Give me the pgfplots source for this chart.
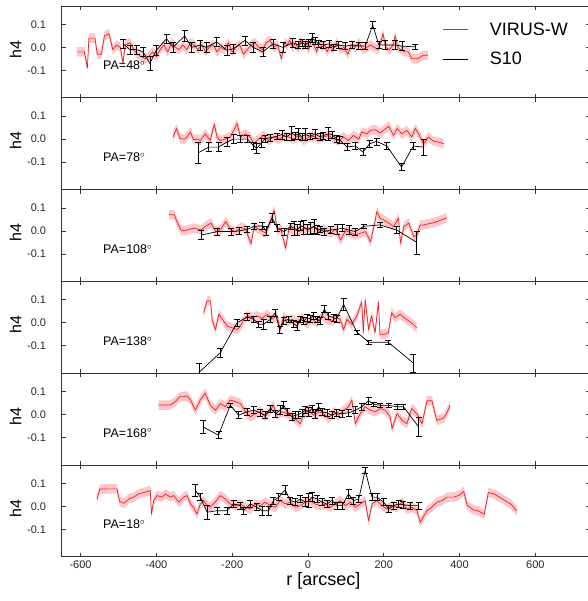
\documentclass[border=0pt]{standalone}
\usepackage{fontspec}
\setmainfont{Liberation Sans}
\usepackage{pgfplots}
\usepackage{pgfplotstable}
\pgfplotsset{compat=1.18}
\usepgfplotslibrary{fillbetween}

\definecolor{vred}{RGB}{236,30,38}
\definecolor{bandpink}{RGB}{251,190,193}

% VIRUS-W (red) and S10 (black) h4 profiles, one table per PA
\pgfplotstableread{
r h
-610 -0.02
-590 -0.02
-582 -0.09
-578 0.04
-562 0.04
-556 -0.03
-545 -0.03
-537 0.05
-525 0.06
-515 -0.01
-505 0.01
-495 0.0
-488 -0.07
-482 0.01
-470 0.02
-460 -0.01
-450 -0.03
-440 -0.04
-430 -0.05
-420 -0.04
-410 -0.02
-400 -0.04
-390 -0.01
-380 0.01
-370 -0.02
-360 0.02
-350 0.0
-340 -0.01
-330 0.01
-320 -0.01
-310 0.02
-300 0.01
-290 -0.01
-280 0.01
-270 -0.02
-260 0.0
-250 0.01
-240 -0.02
-230 0.0
-220 -0.01
-210 0.02
-200 -0.02
-190 0.0
-180 0.01
-170 -0.03
-160 -0.01
-150 0.01
-140 0.02
-130 0.0
-120 -0.01
-110 0.02
-100 0.03
-90 0.0
-80 0.01
-70 -0.05
-62 0.02
-55 0.01
-48 0.03
-40 0.0
-33 0.02
-26 -0.01
-19 0.03
-12 0.0
-5 0.02
2 -0.01
9 0.03
16 0.01
23 -0.02
30 0.02
37 0.0
44 0.01
51 -0.02
58 0.01
66 -0.01
75 0.02
85 -0.01
95 0.0
105 -0.03
115 0.01
125 0.0
135 0.02
145 -0.01
155 0.0
165 0.01
175 0.0
185 -0.01
192 0.02
198 0.06
205 0.0
215 -0.01
225 0.01
230 0.05
237 0.0
245 -0.01
255 -0.02
265 -0.02
274 -0.05
290 -0.05
304 -0.035
317 -0.035
}\redA
\pgfplotstableread{
r h e
-488 0.016 0.02
-470 -0.01 0.02
-452 -0.01 0.02
-435 -0.02 0.02
-417 -0.07 0.03
-400 -0.013 0.02
-373 0.038 0.02
-356 0.0 0.02
-325 0.05 0.025
-307 0.0 0.02
-285 0.009 0.02
-267 0.0 0.02
-241 0.024 0.02
-214 -0.013 0.02
-197 -0.006 0.02
-166 0.03 0.02
-145 0.0 0.02
-119 -0.02 0.02
-92 0.015 0.02
-66 0.0 0.02
-40 0.02 0.02
-25 0.01 0.015
-16 0.02 0.015
-7 0.012 0.015
2 0.02 0.015
11 0.04 0.02
19 0.03 0.015
28 0.015 0.015
41 0.01 0.015
55 0.015 0.015
68 0.0 0.015
81 0.01 0.015
99 0.005 0.015
116 0.01 0.015
134 0.006 0.015
151 0.005 0.015
171 0.097 0.015
187 0.01 0.015
204 0.01 0.02
230 0.01 0.02
248 0.005 0.02
283 0.002 0.01
}\blkA
\pgfplotstableread{
r h
-356 0.009
-347 0.046
-337 0.002
-324 0.0
-310 0.031
-302 -0.003
-293 0.0
-284 -0.006
-271 0.023
-258 -0.006
-247 0.065
-240 0.009
-231 -0.006
-218 0.0
-205 0.009
-187 0.068
-178 0.009
-165 0.023
-152 0.009
-143 -0.02
-130 0.0
-117 0.016
-104 -0.006
-91 0.009
-77 0.0
-64 0.012
-51 0.009
-38 0.0
-25 0.016
-11 -0.006
2 0.009
15 0.012
28 0.0
41 0.009
54 0.016
68 0.0
81 -0.006
94 0.009
107 -0.006
120 0.016
134 0.0
142 0.031
156 0.023
164 0.038
178 0.041
191 0.026
199 0.038
213 0.056
226 0.016
235 0.046
248 0.023
261 0.038
274 0.009
283 0.046
292 0.023
305 -0.02
318 0.009
331 -0.009
345 -0.013
358 -0.02
}\redB
\pgfplotstableread{
r h e
-290 -0.06 0.045
-262 -0.035 0.02
-236 -0.035 0.02
-214 -0.013 0.02
-196 0.0 0.02
-178 0.0 0.015
-160 0.0 0.015
-143 -0.03 0.015
-135 -0.04 0.02
-122 -0.015 0.02
-113 0.002 0.015
-100 0.006 0.015
-82 0.012 0.015
-69 0.02 0.02
-56 0.01 0.015
-43 0.026 0.03
-34 0.016 0.015
-25 0.023 0.025
-16 0.01 0.015
-7 0.02 0.025
6 0.012 0.015
19 0.023 0.02
32 0.01 0.015
41 0.016 0.015
54 0.023 0.03
63 0.02 0.015
76 0.0 0.015
84 -0.004 0.015
103 -0.034 0.015
125 -0.03 0.015
145 -0.056 0.015
163 -0.02 0.015
181 -0.01 0.015
208 -0.03 0.015
247 -0.122 0.015
278 -0.03 0.015
305 -0.035 0.035
}\blkB
\pgfplotstableread{
r h
-366 0.07
-353 0.07
-344 0.034
-335 0.004
-326 0.0
-313 0.007
-300 0.012
-282 0.004
-265 0.026
-256 0.034
-243 -0.003
-230 0.007
-217 0.041
-203 0.004
-190 -0.003
-177 0.016
-164 0.007
-155 -0.037
-150 -0.055
-142 0.019
-129 0.007
-111 -0.01
-98 0.048
-89 0.09
-81 0.004
-72 0.012
-59 -0.076
-50 0.012
-37 0.007
-24 -0.003
-11 0.012
3 0.004
16 0.019
29 -0.003
42 0.007
60 -0.01
73 0.007
86 -0.04
99 0.001
112 -0.007
125 -0.018
139 -0.01
152 -0.003
165 -0.047
174 0.019
182 0.085
190 0.056
200 0.048
213 0.034
226 0.019
239 0.056
244 -0.054
253 0.019
266 0.034
279 -0.025
288 -0.018
296 0.026
305 0.026
332 0.036
349 0.046
366 0.057
}\redC
\pgfplotstableread{
r h e
-282 -0.018 0.02
-239 -0.003 0.015
-203 -0.003 0.015
-182 0.0 0.015
-160 0.007 0.015
-142 0.02 0.015
-120 0.022 0.015
-111 0.0 0.02
-94 0.056 0.02
-81 0.012 0.015
-63 -0.003 0.015
-46 0.02 0.015
-37 0.012 0.03
-28 0.004 0.025
-19 0.022 0.02
-11 0.016 0.03
-2 0.007 0.02
7 0.012 0.025
16 0.02 0.03
25 0.004 0.02
33 0.007 0.015
42 -0.003 0.015
60 0.004 0.015
77 0.007 0.02
90 0.012 0.015
108 0.004 0.02
125 -0.003 0.015
147 0.02 0.01
190 0.026 0.01
234 0.004 0.015
287 -0.05 0.05
}\blkC
\pgfplotstableread{
r h
-275 0.044
-266 0.095
-257 0.095
-253 0.015
-244 -0.03
-235 0.037
-226 0.015
-213 -0.015
-200 -0.022
-187 -0.03
-178 -0.015
-169 0.015
-160 0.03
-147 0.022
-134 0.03
-121 0.018
-108 0.037
-95 0.015
-82 0.03
-73 -0.03
-64 0.03
-55 0.0
-42 0.015
-29 0.0
-16 0.022
-3 -0.007
11 0.015
24 0.0
37 0.03
50 0.015
63 0.007
76 0.022
85 0.015
94 -0.03
103 0.015
116 -0.007
129 0.03
142 0.09
146 -0.044
151 0.1
160 -0.03
168 0.03
177 -0.044
186 0.09
190 -0.05
203 -0.05
212 -0.044
221 0.044
230 0.022
243 0.037
260 0.015
278 -0.007
287 -0.022
}\redD
\pgfplotstableread{
r h e
-288 -0.217 0.04
-232 -0.132 0.02
-187 0.0 0.015
-160 0.025 0.015
-143 0.015 0.015
-130 -0.007 0.015
-117 -0.007 0.02
-99 0.015 0.015
-86 0.044 0.015
-75 -0.03 0.015
-64 0.007 0.015
-51 0.015 0.015
-38 -0.003 0.015
-29 -0.015 0.02
-20 0.015 0.015
-11 0.007 0.015
-3 0.022 0.015
6 0.018 0.015
15 0.03 0.015
24 0.015 0.015
32 0.007 0.015
43 0.059 0.015
54 0.03 0.015
68 0.022 0.015
76 0.018 0.015
94 0.08 0.025
129 -0.041 0.01
160 -0.085 0.01
212 -0.085 0.01
278 -0.176 0.04
}\blkD
\pgfplotstableread{
r h
-394 0.041
-376 0.041
-363 0.041
-350 0.056
-338 0.078
-328 0.078
-319 0.081
-310 0.063
-297 0.019
-284 0.063
-271 0.093
-258 0.041
-244 0.019
-231 0.048
-218 0.034
-205 0.063
-192 0.056
-178 0.048
-165 0.012
-152 -0.01
-139 0.004
-126 0.012
-113 -0.01
-99 0.019
-91 0.041
-82 -0.003
-69 0.012
-55 0.004
-42 -0.01
-29 -0.025
-20 -0.04
-11 0.004
2 0.019
15 -0.003
28 0.012
41 0.004
54 -0.018
68 0.012
81 -0.003
94 0.019
107 0.034
116 0.063
125 -0.04
138 0.004
151 0.034
164 0.019
178 0.012
191 0.026
204 0.019
217 -0.01
222 -0.062
235 0.004
248 -0.025
261 -0.04
274 0.026
287 0.004
301 -0.04
314 0.06
327 0.06
340 -0.026
358 -0.015
367 0.009
375 0.04
}\redE
\pgfplotstableread{
r h e
-277 -0.054 0.03
-236 -0.09 0.015
-205 0.041 0.01
-183 -0.003 0.015
-161 0.012 0.015
-143 0.019 0.015
-126 0.007 0.015
-113 -0.003 0.015
-99 0.026 0.015
-86 0.004 0.015
-73 0.019 0.02
-64 0.041 0.015
-55 0.012 0.015
-42 -0.01 0.015
-33 -0.003 0.015
-25 0.0 0.015
-16 0.007 0.015
-7 0.019 0.015
2 0.012 0.02
11 0.026 0.015
19 0.004 0.02
28 0.034 0.015
37 0.012 0.015
50 0.007 0.015
63 -0.003 0.015
76 0.007 0.015
90 0.004 0.015
107 0.007 0.015
125 0.019 0.015
142 0.034 0.015
160 0.06 0.015
173 0.045 0.01
191 0.04 0.01
213 0.04 0.01
235 0.034 0.01
252 0.034 0.01
292 -0.054 0.04
}\blkE
\pgfplotstableread{
r h
-557 0.03
-549 0.075
-530 0.076
-504 0.076
-497 0.022
-486 0.013
-473 0.032
-460 0.04
-447 0.054
-429 0.062
-416 0.069
-413 -0.034
-407 0.025
-398 0.047
-385 0.04
-376 0.054
-363 0.04
-354 0.047
-341 0.018
-328 0.04
-319 0.047
-310 0.01
-302 -0.004
-293 -0.034
-284 0.01
-275 0.025
-266 0.003
-258 -0.004
-245 0.018
-231 0.047
-218 0.032
-205 0.01
-192 0.003
-179 0.01
-165 -0.004
-152 -0.012
-139 0.01
-126 0.003
-113 0.018
-99 0.003
-86 -0.004
-73 0.025
-60 0.01
-47 0.018
-33 -0.004
-20 0.003
-7 0.018
6 0.025
19 0.01
33 0.003
46 0.01
59 -0.004
72 0.01
85 0.025
99 0.003
112 0.018
125 -0.004
138 0.01
151 0.025
160 -0.063
169 0.01
182 0.025
195 0.003
208 -0.012
222 0.003
235 -0.004
248 0.018
261 -0.012
274 -0.004
288 -0.019
296 -0.07
314 -0.019
327 -0.004
340 0.018
354 0.025
367 0.04
384 0.04
398 0.047
411 0.065
420 0.005
436 -0.015
450 -0.02
465 -0.035
476 0.06
490 0.055
505 0.04
520 0.025
535 0.01
551 -0.02
}\redF
\pgfplotstableread{
r h e
-297 0.069 0.025
-284 0.04 0.015
-266 -0.026 0.03
-240 -0.019 0.015
-214 -0.019 0.015
-196 0.01 0.015
-179 0.003 0.015
-170 -0.019 0.015
-152 0.01 0.015
-135 -0.004 0.015
-121 -0.019 0.02
-104 -0.019 0.02
-91 0.025 0.015
-77 0.04 0.015
-60 0.072 0.02
-47 0.025 0.015
-33 0.018 0.015
-20 0.032 0.015
-7 0.018 0.02
2 0.025 0.03
11 0.04 0.02
24 0.032 0.015
37 0.018 0.015
50 0.01 0.015
63 0.025 0.015
77 0.003 0.015
90 0.003 0.015
107 0.054 0.02
120 0.025 0.015
134 0.032 0.015
151 0.157 0.015
169 0.04 0.015
182 0.04 0.015
200 0.018 0.015
213 -0.012 0.015
226 0.003 0.015
239 0.01 0.015
252 0.007 0.015
270 0.003 0.015
292 0.003 0.015
}\blkF

\pgfplotsset{
  panel/.style={
    scale only axis, width=528.7pt, height=91.8pt, anchor=north west,
    xmin=-650, xmax=745, ymin=-0.22, ymax=0.18,
    xtick={-600,-400,-200,0,200,400,600}, xticklabels={},
    ytick={-0.1,0,0.1}, yticklabels={-0.1,0.0,0.1},
    tick align=inside, major tick length=4pt,
    axis line style={black!80, line width=0.7pt},
    every tick/.style={black!80, line width=0.6pt},
    tick label style={font=\fontsize{11}{13}\selectfont, text=black!85},
    yticklabel style={xshift=-12pt},
    ylabel={h4},
    ylabel style={at={(axis description cs:-0.087,0.53)}, anchor=center,
      font=\fontsize{16}{18}\selectfont},
  },
}
\tikzset{pa/.style={anchor=west, font=\fontsize{12.5}{14}\selectfont}}

\newcommand{\panelplots}[3]{%
  \addplot[draw=none, name path=u#3, forget plot]
    table[x=r, y expr=\thisrow{h}+0.021] {#1};
  \addplot[draw=none, name path=l#3, forget plot]
    table[x=r, y expr=\thisrow{h}-0.021] {#1};
  \addplot[fill=bandpink, draw=none, fill opacity=0.85, forget plot]
    fill between[of=u#3 and l#3];
  \addplot[vred, line width=0.7pt, line join=round] table[x=r, y=h] {#1};
  \addplot[black, line width=0.7pt, error bars/.cd, y dir=both, y explicit,
    error mark=-,
    error bar style={black, line width=0.6pt},
    error mark options={black, mark size=3pt, line width=0.6pt, rotate=90}]
    table[x=r, y=h, y error=e] {#2};
}

\begin{document}
\begin{tikzpicture}

\begin{axis}[panel, at={(61.6pt,595pt)},
  legend style={at={(0.721,0.84)}, anchor=north west, draw=none, fill=none,
    font=\fontsize{18}{20}\selectfont, row sep=11pt, inner sep=0pt,
    nodes={inner xsep=21pt}},
  legend cell align=left,
  legend image code/.code={\draw[#1] (0pt,0pt) -- (25pt,0pt);}]
\addlegendimage{vred, line width=0.9pt}
\addlegendimage{black, line width=0.9pt}
\legend{VIRUS-W,S10}
\panelplots{\redA}{\blkA}{a}
\node[pa] at (rel axis cs:0.072,0.35) {PA=48$^{\circ}$};
\end{axis}

\begin{axis}[panel, at={(61.6pt,503.2pt)}]
\panelplots{\redB}{\blkB}{b}
\node[pa] at (rel axis cs:0.072,0.35) {PA=78$^{\circ}$};
\end{axis}

\begin{axis}[panel, at={(61.6pt,411.4pt)}]
\panelplots{\redC}{\blkC}{c}
\node[pa] at (rel axis cs:0.072,0.35) {PA=108$^{\circ}$};
\end{axis}

\begin{axis}[panel, at={(61.6pt,319.6pt)}]
\panelplots{\redD}{\blkD}{d}
\node[pa] at (rel axis cs:0.072,0.35) {PA=138$^{\circ}$};
\end{axis}

\begin{axis}[panel, at={(61.6pt,227.8pt)}]
\panelplots{\redE}{\blkE}{e}
\node[pa] at (rel axis cs:0.072,0.35) {PA=168$^{\circ}$};
\end{axis}

\begin{axis}[panel, at={(61.6pt,136pt)},
  xticklabels={-600,-400,-200,0,200,400,600},
  xlabel={r [arcsec]},
  xlabel style={at={(axis description cs:0.495,0)}, anchor=center, yshift=-24pt,
    font=\fontsize{18}{20}\selectfont}]
\panelplots{\redF}{\blkF}{f}
\node[pa] at (rel axis cs:0.072,0.35) {PA=18$^{\circ}$};
\end{axis}

\pgfresetboundingbox
\path[use as bounding box] (0,0) rectangle (587pt,601pt);
\end{tikzpicture}
\end{document}
